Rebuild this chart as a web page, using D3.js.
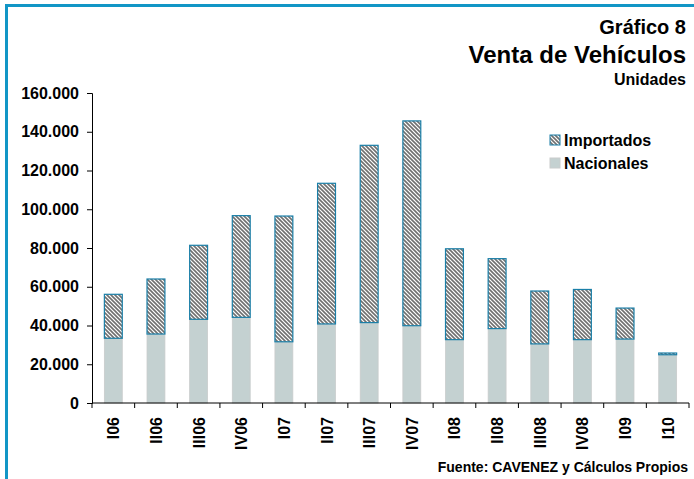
<!DOCTYPE html>
<html>
<head>
<meta charset="utf-8">
<script src="https://cdn.jsdelivr.net/npm/d3@7"></script>
<style>
  body { margin: 0; background: #fff; }
  svg text { font-family: "Liberation Sans", Arial, sans-serif; font-weight: bold; fill: #000; }
</style>
</head>
<body>
<div id="chart"></div>
<script>
// quarters
const categories = ["I06", "II06", "III06", "IV06", "I07", "II07", "III07", "IV07", "I08", "II08", "III08", "IV08", "I09", "I10"];
// units sold
const nacionales = [33400, 35600, 43200, 44200, 31600, 40800, 41500, 39900, 32700, 38400, 30500, 32700, 33000, 24900];
const importados = [22700, 28400, 38200, 52500, 64900, 72600, 91500, 105700, 46900, 36100, 27300, 25900, 16000, 900];
const yTicks = [0, 20000, 40000, 60000, 80000, 100000, 120000, 140000, 160000];

const width = 694, height = 479;
const margin = { left: 92, right: 5, top: 93, bottom: 76 };

const svg = d3.select("#chart").append("svg")
    .attr("width", width)
    .attr("height", height);

// hatch for importados
const defs = svg.append("defs");
const pat = defs.append("pattern")
    .attr("id", "hatch")
    .attr("patternUnits", "userSpaceOnUse")
    .attr("width", 4)
    .attr("height", 4);
pat.append("rect").attr("width", 4).attr("height", 4).attr("fill", "#fff");
pat.append("path")
    .attr("d", "M-1,-1L5,5M-1,3L1,5M3,-1L5,1")
    .attr("stroke", "#707070")
    .attr("stroke-width", 1.6);

// frame (blue left + top border)
svg.append("line").attr("x1", 6.5).attr("x2", 6.5).attr("y1", 4).attr("y2", height)
    .attr("stroke", "#1296c6").attr("stroke-width", 3);
svg.append("line").attr("x1", 5).attr("x2", width).attr("y1", 5.5).attr("y2", 5.5)
    .attr("stroke", "#1296c6").attr("stroke-width", 3);

// titles
svg.append("text").attr("x", 686).attr("y", 34).attr("text-anchor", "end")
    .style("font-size", "20px").text("Gráfico 8");
svg.append("text").attr("x", 686).attr("y", 63).attr("text-anchor", "end")
    .style("font-size", "24px").text("Venta de Vehículos");
svg.append("text").attr("x", 686).attr("y", 85).attr("text-anchor", "end")
    .style("font-size", "16px").text("Unidades");

const x = d3.scaleBand()
    .domain(categories)
    .range([margin.left, width - margin.right])
    .paddingInner(0.58)
    .paddingOuter(0.29);

const y = d3.scaleLinear()
    .domain([0, 160000])
    .range([height - margin.bottom, margin.top]);

const locale = d3.formatLocale({ decimal: ",", thousands: ".", grouping: [3], currency: ["", ""] });
const fmt = locale.format(",");

// bars
const data = categories.map((c, i) => ({ cat: c, nac: nacionales[i], imp: importados[i] }));

svg.append("g").selectAll("rect")
    .data(data)
    .join("rect")
    .attr("x", d => x(d.cat))
    .attr("width", x.bandwidth())
    .attr("y", d => y(d.nac))
    .attr("height", d => y(0) - y(d.nac))
    .attr("fill", "#c4d1d1")
    .attr("stroke", "#c9cccc")
    .attr("stroke-width", 0.8);

svg.append("g").selectAll("rect")
    .data(data)
    .join("rect")
    .attr("x", d => x(d.cat))
    .attr("width", x.bandwidth())
    .attr("y", d => y(d.nac + d.imp))
    .attr("height", d => y(d.nac) - y(d.nac + d.imp))
    .attr("fill", "url(#hatch)")
    .attr("stroke", "#1a7fa8")
    .attr("stroke-width", 1.2);

// y axis
const yAxis = svg.append("g")
    .attr("transform", `translate(${margin.left},0)`)
    .call(d3.axisLeft(y).tickValues(yTicks).tickFormat(fmt).tickSize(5).tickPadding(8));
yAxis.select(".domain").attr("stroke", "#000");
yAxis.selectAll(".tick line").attr("stroke", "#000");
yAxis.selectAll("text").style("font-size", "16px").attr("font-family", null);

// x axis: ticks at band edges
const xa = svg.append("g");
xa.append("line")
    .attr("x1", margin.left).attr("x2", width - margin.right)
    .attr("y1", y(0)).attr("y2", y(0))
    .attr("stroke", "#000");
const edges = categories.map(c => x(c) - (x.step() - x.bandwidth()) / 2)
    .concat([width - margin.right]);
xa.selectAll(".edge")
    .data(edges)
    .join("line")
    .attr("x1", d => d).attr("x2", d => d)
    .attr("y1", y(0)).attr("y2", y(0) + 5)
    .attr("stroke", "#000");
xa.selectAll(".lbl")
    .data(categories)
    .join("text")
    .attr("transform", d => `translate(${x(d) + x.bandwidth() / 2 + 6},${y(0) + 14}) rotate(-90)`)
    .attr("text-anchor", "end")
    .style("font-size", "16px")
    .text(d => d);

// legend
const legend = svg.append("g");
const legendItems = [
    { label: "Importados", fill: "url(#hatch)", stroke: "#1a7fa8" },
    { label: "Nacionales", fill: "#c4d1d1", stroke: "#c9cccc" }
];
legend.selectAll("rect")
    .data(legendItems)
    .join("rect")
    .attr("x", 550).attr("y", (d, i) => 135 + i * 23)
    .attr("width", 10).attr("height", 10)
    .attr("fill", d => d.fill)
    .attr("stroke", d => d.stroke);
legend.selectAll("text")
    .data(legendItems)
    .join("text")
    .attr("x", 564).attr("y", (d, i) => 146 + i * 23)
    .style("font-size", "16px")
    .text(d => d.label);

// source
svg.append("text").attr("x", 688).attr("y", 472).attr("text-anchor", "end")
    .style("font-size", "14px").text("Fuente: CAVENEZ y Cálculos Propios");
</script>
</body>
</html>
